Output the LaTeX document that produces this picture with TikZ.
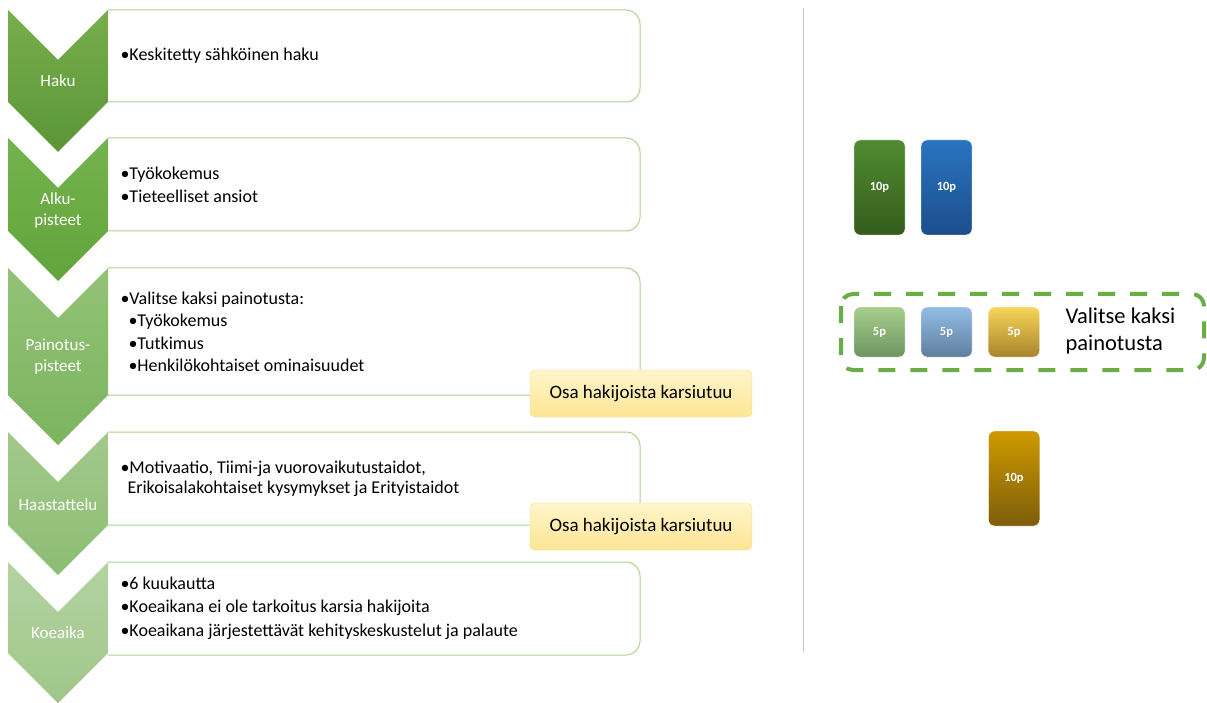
\documentclass[tikz,border=0pt]{standalone}
\usepackage{fontspec}
\setmainfont{Carlito}
\usetikzlibrary{positioning}
\definecolor{boxgreen}{HTML}{A9D18E}
\definecolor{framegreen}{HTML}{6AAC45}
\definecolor{cutline}{HTML}{F6DB88}
\definecolor{cut-top}{HTML}{FFF5CB}
\definecolor{cut-bot}{HTML}{FDE594}
\definecolor{chev-top-1}{HTML}{78AE4C}
\definecolor{chev-bot-1}{HTML}{5A9636}
\definecolor{chev-top-2}{HTML}{74B24D}
\definecolor{chev-bot-2}{HTML}{62A53C}
\definecolor{chev-top-3}{HTML}{92C276}
\definecolor{chev-bot-3}{HTML}{7CB45F}
\definecolor{chev-top-4}{HTML}{A2C98B}
\definecolor{chev-bot-4}{HTML}{8CBD73}
\definecolor{chev-top-5}{HTML}{B3D3A2}
\definecolor{chev-bot-5}{HTML}{A0C78A}
\tikzset{
    step-box/.style = {draw=boxgreen, line width=1pt, rounded corners=14pt},
    step-label/.style = {text=white, align=center, font=\fontsize{17}{21}\selectfont},
    item-text/.style = {anchor=west, align=left, font=\fontsize{18}{22.5}\selectfont},
    cut-box/.style = {draw=cutline, top color=cut-top, bottom color=cut-bot, rounded corners=5pt, minimum width=222pt, minimum height=47pt, font=\fontsize{19}{22}\selectfont},
    point-tile/.style = {draw=white, rounded corners=6pt, minimum width=51pt, text=white, font=\fontsize{12.5}{14}\selectfont\bfseries},
    choice-frame/.style = {draw=framegreen, line width=4pt, dash pattern=on 17pt off 15pt, rounded corners=12pt},
    divider/.style = {draw=black!22, line width=0.8pt},
}
\begin{document}
\begin{tikzpicture}[x=1pt, y=-1pt]
\useasboundingbox (0,0) rectangle (1207,703);

\foreach \t/\b [count=\i] in {10/102, 138/231, 268/395, 432/525, 562/653}
    \shade[top color=chev-top-\i, bottom color=chev-bot-\i] (8,\t) -- (58,\t+50) -- (108,\t) -- (108,\b) -- (58,\b+50) -- (8,\b) -- cycle;

\node[step-label] (haku) at (58,81) {Haku};
\node[step-label] (alku) at (58,210) {Alku-\\pisteet};
\node[step-label] (painotus) at (58,357) {Painotus-\\pisteet};
\node[step-label] (haastattelu) at (58,505) {Haastattelu};
\node[step-label] (koeaika) at (58,633) {Koeaika};

\foreach \t/\b in {10/102, 138/231, 268/395, 432/525, 562/655}
    \draw[step-box] (108,\t) -- (640,\t) -- (640,\b) -- (108,\b);

\node[item-text] (haku-text) at (117,56) {•Keskitetty sähköinen haku};
\node[item-text] (alku-text) at (117,185) {•Työkokemus\\•Tieteelliset ansiot};
\node[item-text] (painotus-text) at (117,332) {•Valitse kaksi painotusta:\\\hspace*{8pt}•Työkokemus\\\hspace*{8pt}•Tutkimus\\\hspace*{8pt}•Henkilökohtaiset ominaisuudet};
\node[item-text, font=\fontsize{18}{20.5}\selectfont] (haastattelu-text) at (117,479) {•Motivaatio, Tiimi-ja vuorovaikutustaidot,\\\hspace*{7pt}Erikoisalakohtaiset kysymykset ja Erityistaidot};
\node[item-text, font=\fontsize{18}{23.5}\selectfont] (koeaika-text) at (117,608) {•6 kuukautta\\•Koeaikana ei ole tarkoitus karsia hakijoita\\•Koeaikana järjestettävät kehityskeskustelut ja palaute};

\node[cut-box] (cut-1) at (641,393.5) {Osa hakijoista karsiutuu};
\node[cut-box] (cut-2) at (641,526.5) {Osa hakijoista karsiutuu};

\draw[divider] (803,8) -- (803,652);

\node[point-tile, minimum height=95pt, top color={rgb,255:red,80;green,140;blue,48}, bottom color={rgb,255:red,52;green,92;blue,28}] (alku-green) at (879.5,187.5) {10p};
\node[point-tile, minimum height=95pt, top color={rgb,255:red,42;green,116;blue,192}, bottom color={rgb,255:red,28;green,78;blue,140}] (alku-blue) at (946.5,187.5) {10p};

\draw[choice-frame] (841,294) rectangle (1204,370);
\node[point-tile, minimum height=50pt, top color={rgb,255:red,166;green,207;blue,139}, bottom color={rgb,255:red,110;green,148;blue,96}] (paino-green) at (879.5,332) {5p};
\node[point-tile, minimum height=50pt, top color={rgb,255:red,147;green,189;blue,230}, bottom color={rgb,255:red,95;green,126;blue,158}] (paino-blue) at (946.5,332) {5p};
\node[point-tile, minimum height=50pt, top color={rgb,255:red,247;green,214;blue,90}, bottom color={rgb,255:red,168;green,131;blue,44}] (paino-gold) at (1014,332) {5p};
\node[anchor=west, align=left, font=\fontsize{22.5}{27}\selectfont] (choose) at (1062,331) {Valitse kaksi\\painotusta};

\node[point-tile, minimum height=95pt, top color={rgb,255:red,207;green,154;blue,0}, bottom color={rgb,255:red,124;green,93;blue,10}] (haastattelu-gold) at (1014,478.5) {10p};
\end{tikzpicture}
\end{document}
